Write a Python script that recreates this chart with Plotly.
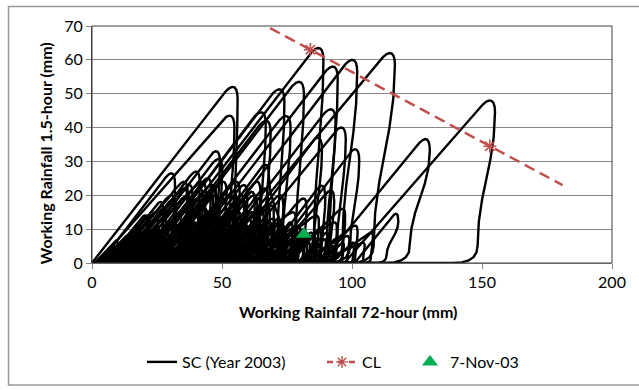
import plotly.graph_objects as go

# ---------------- data ----------------
# Each SC loop: rise start x (y=0), peak x, peak y, x where the fall reaches ~0
loop_start = [0, 2, 22, 39, 46, 97, 88, 101, 33, 25, 20, 45, 24, 20, 14, 38, 3, 12, 17, 67, 30, 50, 52,
              1, 3, 5, 6, 8, 10, 11, 13, 15, 17, 18, 20, 22, 24, 25, 27, 29, 31, 33, 35, 37, 40, 42, 45,
              47, 50, 52, 55, 57, 60, 62, 65, 67, 70, 74, 78, 82, 86, 90, 45, 48, 7, 10, 15,
              2, 4, 6, 9, 12, 14, 16, 19, 21, 23, 26, 28, 30, 33, 35, 38, 40, 43, 46, 49, 52, 55,
              58, 61, 64, 67, 70, 73, 76, 79, 20, 26, 32, 36, 40, 28, 38, 48, 58, 68, 17, 33, 53,
              4, 5, 7, 9, 11, 13, 15, 18, 21, 24, 27, 29, 31, 34, 36, 39, 41, 44, 47, 50, 53, 56,
              59, 62, 65, 69, 72, 75, 80, 84, 88, 92, 18, 23, 25, 30, 34, 38, 42, 5, 10, 14, 22,
              31, 36, 42, 46, 51, 56, 61, 66, 71, 76, 81, 86]
loop_peak_x = [53, 52, 86, 99, 113.5, 152, 127.5, 116.5, 91.5, 78.5, 71, 90.8, 66, 64, 47, 66, 30, 39.5, 48, 100.5, 73.6, 86, 95,
               9, 13, 17, 21, 24, 27, 31, 33, 36, 38, 41, 43, 45, 48, 50, 52, 54, 56, 58, 60, 62, 64, 67, 69,
               72, 74, 77, 79, 81, 84, 86, 88, 91.5, 93, 96, 98, 101, 104, 107, 64.6, 68.5, 35, 42, 46,
               8, 11, 15, 19, 22, 25, 28, 30, 34, 37, 39, 43, 46, 48, 51, 53, 56, 58, 61, 63, 66, 68,
               71, 73, 76, 78, 81, 84, 87, 90, 40, 47, 53, 57, 61, 36, 46, 56, 66, 76, 23, 40, 60,
               12, 20, 26, 30, 35, 37, 25, 27, 29, 33, 35, 41, 43, 45, 49, 50, 53, 55, 59, 61, 64, 66,
               69, 72, 74, 79, 82, 85, 89, 93, 96, 100, 44, 46, 50, 55, 58, 63, 66, 9, 15, 20, 30,
               38, 44, 50, 54, 59, 63, 68, 72, 78, 83, 87, 92]
loop_peak_y = [52, 43.5, 63.5, 60, 62, 48, 36.6, 14.5, 58, 53.5, 51.3, 45.4, 42, 44.5, 33, 29, 26.5, 27, 30.7, 33.6, 43.4, 37, 40,
               6.6, 8, 11, 14, 15, 16, 19, 14, 20, 12, 22, 16, 21, 10, 19, 14, 21, 9, 18, 13, 20, 11, 17, 13,
               20, 9, 15, 11, 19, 8, 14, 22.8, 21.4, 12, 16, 8, 11, 6, 9, 16, 17, 24, 24, 23,
               5, 6, 8, 9, 9, 10, 11, 10, 12, 13, 12, 14, 15, 14, 16, 14, 15, 14, 15, 13, 13, 12,
               13, 11, 12, 10, 10, 9, 10, 9, 19, 20, 20, 20, 21, 7, 7, 7, 7, 7, 5, 6, 6,
               7, 14, 18, 20, 22, 23, 9, 8, 7, 8, 7, 11, 11, 10, 12, 10, 11, 10, 11, 10, 10, 9,
               9, 9, 8, 9, 9, 8, 7, 7, 6, 6, 25, 22, 24, 24, 23, 24, 22, 4, 5, 6, 8,
               7, 7, 7, 7, 7, 6, 6, 5, 6, 6, 5, 5]
loop_end = [54, 52, 85, 96, 108, 148, 122, 113, 91, 78, 71, 90, 66, 64, 47, 74, 31, 40, 48, 99, 73, 85, 94,
            9, 13, 17, 21, 24, 27, 31, 33, 36, 38, 41, 43, 45, 48, 50, 52, 54, 56, 58, 60, 62, 64, 67, 69,
            72, 74, 77, 79, 81, 84, 86, 88, 91, 93, 96, 98, 101, 104, 107, 65, 69, 35, 42, 46,
            8, 11, 15, 19, 22, 25, 28, 30, 34, 37, 39, 43, 46, 48, 51, 53, 56, 58, 61, 63, 66, 68,
            71, 73, 76, 78, 81, 84, 87, 90, 40, 47, 53, 57, 61, 36, 46, 56, 66, 76, 23, 40, 60,
            12, 20, 26, 30, 35, 37, 25, 27, 29, 33, 35, 41, 43, 45, 49, 50, 53, 55, 59, 61, 64, 66,
            69, 72, 74, 79, 82, 85, 89, 93, 96, 100, 44, 46, 50, 55, 58, 63, 66, 9, 15, 20, 30,
            38, 44, 50, 54, 59, 63, 68, 72, 78, 83, 87, 92]

cl_x = [68.5, 84, 153, 181]
cl_y = [69.4, 63, 34.5, 23.0]
cl_star_x = [84, 153]
cl_star_y = [63, 34.5]

event_x = [81.5]
event_y = [8.5]

x_ticks = [0, 50, 100, 150, 200]
y_ticks = [0, 10, 20, 30, 40, 50, 60, 70]

RED = "#C0504D"


# ---------------- build loop paths (straight rise, rounded top, near-vertical fall) ----------------
def bez(p0, p1, p2, p3, n=8):
    out = []
    for i in range(1, n + 1):
        t = i / n
        u = 1 - t
        out.append((u**3 * p0[0] + 3 * u * u * t * p1[0] + 3 * u * t * t * p2[0] + t**3 * p3[0],
                    u**3 * p0[1] + 3 * u * u * t * p1[1] + 3 * u * t * t * p2[1] + t**3 * p3[1]))
    return out


sc_x, sc_y = [], []
for s, px, py, f in zip(loop_start, loop_peak_x, loop_peak_y, loop_end):
    run = px - s
    r1 = min(0.2 * py, 4.5)
    by = py - r1
    bx = s + run * by / py
    w = min(0.6 + 0.05 * py, 3.0)
    dx, dy = px + w, py - min(0.15 * py, 3.5)
    r3 = min(0.15 * py, 5.0)
    fx, fy = f + 0.3, r3
    gx = f - r3 * 1.8
    pts = [(s, 0), (bx, by)]
    pts += bez((bx, by), (px, py + 0.3 * r1), (dx, py + 0.3 * r1), (dx, dy))
    pts += bez((dx, dy), (dx, dy - 0.4 * (dy - fy)), (fx, fy + 0.4 * (dy - fy)), (fx, fy), n=6)
    pts += bez((fx, fy), (fx - 0.1, fy * 0.3), (f - r3 * 0.6, 0), (gx, 0), n=5)
    pts.append((s, 0))
    for a, b in pts:
        sc_x.append(a)
        sc_y.append(b)
    sc_x.append(None)
    sc_y.append(None)

FONT = "Lato"
fig = go.Figure()
fig.add_trace(go.Scatter(
    x=sc_x, y=sc_y, mode="lines", name="SC (Year 2003)",
    line=dict(color="black", width=2.4),
    connectgaps=False, hoverinfo="skip", legend="legend"))
fig.add_trace(go.Scatter(
    x=cl_x, y=cl_y, mode="lines", name="CL", showlegend=False,
    line=dict(color=RED, width=2.5, dash="11px,6px")))
fig.add_trace(go.Scatter(
    x=cl_star_x, y=cl_star_y, mode="markers", name="CL", showlegend=False,
    marker=dict(symbol="asterisk-open", size=11, color=RED, line=dict(color=RED, width=1.6))))
# legend entry for CL (dashed line with star)
fig.add_trace(go.Scatter(
    x=[None], y=[None], mode="lines+markers", name="CL",
    line=dict(color=RED, width=2.5, dash="6px,5px"),
    marker=dict(symbol="asterisk-open", size=10, color=RED, line=dict(color=RED, width=1.4)),
    legend="legend2"))
fig.add_trace(go.Scatter(
    x=event_x, y=event_y, mode="markers", name="7-Nov-03",
    marker=dict(symbol="triangle-up", size=14, color="#00B050"),
    legend="legend3"))

L, R, T, B = 92, 612, 26, 264
W, H = 639, 390
pw, ph = R - L, B - T


def px_x(p):
    return (p - L) / pw


def px_y(p):
    return (B - p) / ph


def leg(xpix):
    return dict(orientation="h", x=px_x(xpix), y=px_y(362), xanchor="left", yanchor="middle",
                font=dict(family=FONT, size=16, color="black"), bgcolor="rgba(0,0,0,0)")


fig.update_layout(
    width=W, height=H,
    margin=dict(l=L, r=W - R, t=T, b=H - B, pad=0),
    paper_bgcolor="white", plot_bgcolor="white",
    font=dict(family=FONT, size=15, color="black"),
    showlegend=True,
    legend=leg(142),
    legend2=leg(322),
    legend3=leg(410),
    xaxis=dict(range=[0, 200], tickvals=x_ticks, ticks="outside", ticklen=5, tickcolor="#868686",
               showgrid=False, zeroline=False, showline=True, linecolor="#868686", linewidth=1,
               tickfont=dict(family=FONT, size=16, color="black")),
    yaxis=dict(range=[0, 70], tickvals=y_ticks, ticks="outside", ticklen=5, tickcolor="#868686",
               showgrid=True, gridcolor="#868686", gridwidth=1, zeroline=False,
               showline=True, linecolor="#404040", linewidth=1,
               tickfont=dict(family=FONT, size=16, color="black")),
    annotations=[
        dict(text="<b>Working Rainfall 72-hour (mm)</b>", xref="paper", yref="paper",
             x=px_x(348), y=px_y(313), xanchor="center", yanchor="middle", showarrow=False,
             font=dict(family=FONT, size=16, color="black")),
        dict(text="<b>Working Rainfall 1.5-hour (mm)</b>", xref="paper", yref="paper",
             x=px_x(45), y=px_y(154), xanchor="center", yanchor="middle", showarrow=False,
             textangle=-90, font=dict(family=FONT, size=16, color="black")),
    ],
    shapes=[
        dict(type="rect", xref="paper", yref="paper", x0=0, x1=1, y0=0, y1=1,
             line=dict(color="#404040", width=1), layer="above"),
        dict(type="rect", xref="paper", yref="paper", x0=px_x(8.5), x1=px_x(660), y0=px_y(386.5), y1=px_y(6.5),
             line=dict(color="#999999", width=1.5), layer="above"),
    ],
)

fig.write_html("out.html")
